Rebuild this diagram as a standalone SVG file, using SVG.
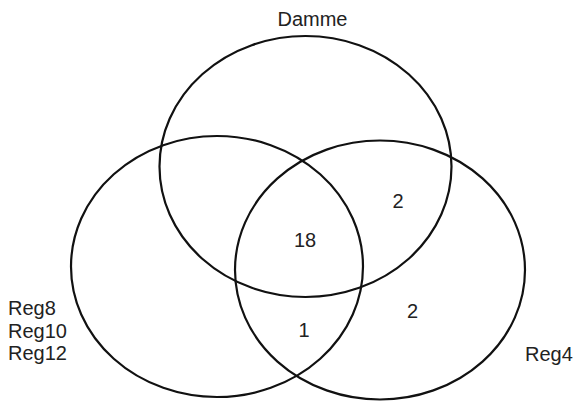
<svg xmlns="http://www.w3.org/2000/svg" width="576" height="402" viewBox="0 0 576 402">
<style>
.set{fill:none;stroke:#111;stroke-width:2.2}
.t{font-family:"Liberation Sans",Arial,Helvetica,sans-serif;font-size:20px;fill:#222}
.c{text-anchor:middle}
</style>
<rect width="576" height="402" fill="#fff"/>
<g id="damme"><ellipse class="set" cx="305.5" cy="166.5" rx="146" ry="130.5"/><text class="t c" x="312.5" y="26">Damme</text></g>
<g id="reg8"><ellipse class="set" cx="217" cy="266.5" rx="146" ry="130.5"/><text class="t" x="8" y="315">Reg8</text><text class="t" x="8" y="337.5">Reg10</text><text class="t" x="8" y="360">Reg12</text></g>
<g id="reg4"><ellipse class="set" cx="380" cy="270" rx="145" ry="129.5"/><text class="t" x="525" y="361">Reg4</text></g>
<g id="counts">
<text class="t c" x="305" y="246.5">18</text>
<text class="t c" x="398" y="207.5">2</text>
<text class="t c" x="412.5" y="318">2</text>
<text class="t c" x="304" y="336.5">1</text>
</g>
<g id="connectors"/>
</svg>
